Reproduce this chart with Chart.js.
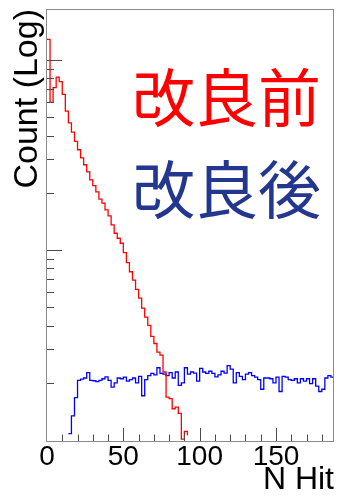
<!DOCTYPE html>
<html>
<head>
<meta charset="utf-8">
<script src="https://cdn.jsdelivr.net/npm/chart.js@4.4.0/dist/chart.umd.min.js"></script>
<style>
    html, body { margin: 0; padding: 0; background: #fff; }
    canvas { display: block; }
</style>
</head>
<body>
<canvas id="hitChart" width="338" height="496"></canvas>
<script>
// N Hit distribution, before / after the fix (log count)
const BIN_WIDTH = 2;
const X_MIN = 0;
const X_MAX = 188;
const Y_MIN = 97.6;
const Y_MAX = 18550;

const xTickLabels = [0, 50, 100, 150];
const xMinorStep = 10;

const seriesNames = ['改良前', '改良後'];
const lineColors = ['#ff0000', '#0000ff'];
const nameColors = ['#ff0000', '#24378f'];

// counts per 2-hit bin
const beforeCounts = [
    12850, 5980, 7150, 8130, 7690, 6590, 5380, 4670, 4170, 3730,
    3370, 3050, 2810, 2580, 2340, 2180, 2020, 1853, 1763, 1627,
    1512, 1355, 1225, 1153, 1085, 968, 857, 768, 694, 620,
    558, 494, 443, 401, 351, 322, 290, 280, 228, 168,
    165, 146, 149, 138, 101, 111, 106, 0, 0, 0,
    0, 0, 0, 0, 0, 0, 0, 0, 0, 0,
    0, 0, 0, 0, 0, 0, 0, 0, 0, 0,
    0, 0, 0, 0, 0, 0, 0, 0, 0, 0,
    0, 0, 0, 0, 0, 0, 0, 0, 0, 0,
    0, 0, 0, 0
];

const afterCounts = [
    10000, 0, 0, 0, 0, 0, 0, 108, 134, 167,
    206, 209, 212, 226, 206, 205, 203, 206, 210, 215,
    206, 190, 200, 212, 210, 214, 204, 208, 212, 200,
    216, 171, 208, 218, 224, 220, 240, 224, 222, 218,
    226, 212, 228, 194, 200, 240, 222, 228, 225, 204,
    238, 228, 224, 230, 224, 215, 220, 230, 225, 246,
    236, 200, 226, 216, 208, 222, 226, 218, 214, 208,
    185, 212, 212, 210, 200, 214, 180, 216, 214, 208,
    206, 210, 200, 210, 204, 210, 198, 210, 192, 180,
    185, 212, 218, 214
];

// bin edges -> step points (starts from the floor like a drawn histogram)
function histPoints(counts) {
    const pts = [{ x: X_MIN, y: 0 }];
    counts.forEach((c, i) => pts.push({ x: X_MIN + i * BIN_WIDTH, y: c }));
    pts.push({ x: X_MIN + counts.length * BIN_WIDTH, y: counts[counts.length - 1] });
    return pts;
}

// frame, inward ticks and the big series names
const frameAndTicks = {
    id: 'frameAndTicks',
    afterDatasetsDraw(chart) {
        const { ctx, chartArea: a, scales: { x, y } } = chart;
        ctx.save();

        ctx.strokeStyle = '#8a8a8a';
        ctx.lineWidth = 1;
        ctx.strokeRect(a.left - 0.5, a.top + 0.5, a.right - a.left, a.bottom - a.top - 1);

        ctx.strokeStyle = '#4a4a4a';
        ctx.beginPath();
        // log ticks on the left axis (none sitting on the bottom line)
        for (let p = 1; p <= 4; p++) {
            for (let m = 1; m <= 9; m++) {
                const v = m * Math.pow(10, p);
                if (v < Y_MIN || v > Y_MAX) continue;
                const py = Math.round(y.getPixelForValue(v)) + 0.5;
                if (py > a.bottom - 4) continue;
                const len = m === 1 ? 15 : 7;
                ctx.moveTo(a.left, py);
                ctx.lineTo(a.left + len, py);
            }
        }
        // ticks on the bottom axis
        for (let v = X_MIN + xMinorStep; v < X_MAX; v += xMinorStep) {
            const px = Math.round(x.getPixelForValue(v)) + 0.5;
            const len = xTickLabels.includes(v) ? 13 : 6.5;
            ctx.moveTo(px, a.bottom - 1);
            ctx.lineTo(px, a.bottom - 1 - len);
        }
        ctx.stroke();

        ctx.font = '63px "Noto Sans CJK JP"';
        ctx.textAlign = 'center';
        ctx.textBaseline = 'middle';
        ctx.fillStyle = nameColors[0];
        ctx.fillText(seriesNames[0], 226.5, 97.5);
        ctx.fillStyle = nameColors[1];
        ctx.fillText(seriesNames[1], 226.5, 189);

        ctx.restore();
    }
};

const hitChart = new Chart(document.getElementById('hitChart'), {
    type: 'line',
    data: {
        datasets: [{
            label: seriesNames[0],
            data: histPoints(beforeCounts),
            borderColor: lineColors[0],
            stepped: true
        }, {
            label: seriesNames[1],
            data: histPoints(afterCounts),
            borderColor: lineColors[1],
            stepped: true
        }]
    },
    options: {
        responsive: false,
        animation: false,
        devicePixelRatio: 1,
        layout: { padding: { top: 9, right: 4, left: 0, bottom: 0 } },
        plugins: { legend: { display: false }, tooltip: { enabled: false } },
        elements: {
            point: { radius: 0 },
            line: { borderWidth: 1.3, tension: 0, fill: false }
        },
        scales: {
            x: {
                type: 'linear',
                min: X_MIN,
                max: X_MAX,
                bounds: 'data',
                grid: { display: false, drawTicks: false },
                border: { display: false },
                afterBuildTicks: s => { s.ticks = xTickLabels.map(v => ({ value: v })); },
                afterFit: s => { s.height = 54; },
                ticks: {
                    autoSkip: false,
                    maxRotation: 0,
                    padding: 1,
                    color: '#000',
                    font: { family: 'Liberation Sans', size: 28, lineHeight: 1 }
                },
                title: {
                    display: true,
                    text: 'N Hit',
                    align: 'end',
                    color: '#000',
                    padding: 0,
                    font: { family: 'Liberation Sans', size: 32, lineHeight: 1 }
                }
            },
            y: {
                type: 'logarithmic',
                min: Y_MIN,
                max: Y_MAX,
                grid: { display: false, drawTicks: false },
                border: { display: false },
                ticks: { display: false },
                afterFit: s => { s.width = 47; },
                title: {
                    display: true,
                    text: 'Count (Log)',
                    align: 'end',
                    color: '#000',
                    padding: { top: 7, bottom: 0 },
                    font: { family: 'Liberation Sans', size: 34, lineHeight: 1.2 }
                }
            }
        }
    },
    plugins: [frameAndTicks]
});
</script>
</body>
</html>
